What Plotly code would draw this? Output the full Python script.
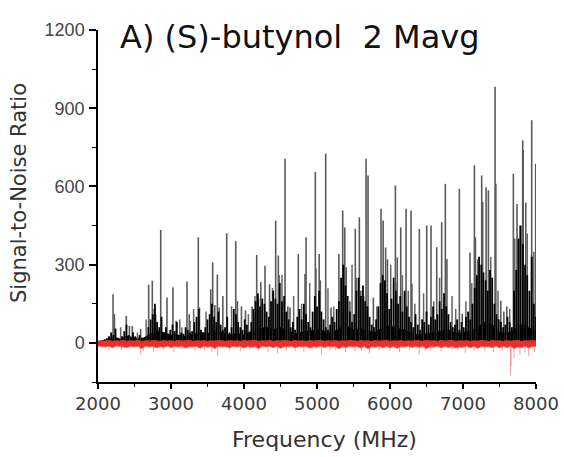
import plotly.graph_objects as go

# ---- data ----
peak_freq = [2206, 2225, 2388, 2430, 2470, 2584, 2694, 2744, 2770, 2790, 2859, 2945, 3027, 3070,
             3219, 3250, 3260, 3374, 3390, 3544, 3571, 3600, 3635, 3660, 3710, 3763, 3887, 3910,
             3965, 4020, 4110, 4174, 4230, 4288, 4350, 4434, 4470, 4480, 4562, 4600, 4630, 4744,
             4836, 4850, 4977, 4985, 5030, 5045, 5119, 5192, 5300, 5352, 5380, 5400, 5450, 5525,
             5580, 5600, 5672, 5699, 5772, 5877, 5906, 5940, 5965, 6074, 6080, 6100, 6147, 6220,
             6288, 6300, 6402, 6503, 6562, 6640, 6708, 6758, 6780, 6950, 6990, 7096, 7156, 7170,
             7256, 7270, 7316, 7348, 7439, 7450, 7517, 7560, 7600, 7690, 7740, 7818, 7825, 7860,
             7941, 7945, 7996]
peak_snr = [187, 110, 104, 65, 65, 54, 223, 238, 130, 110, 433, 174, 213, 85,
            235, 110, 85, 405, 136, 206, 309, 145, 262, 136, 180, 420, 390, 160,
            140, 125, 140, 337, 233, 296, 225, 469, 335, 260, 706, 140, 136, 341,
            264, 405, 655, 285, 341, 240, 726, 136, 341, 508, 443, 290, 160, 438,
            482, 200, 706, 642, 174, 514, 469, 366, 320, 604, 230, 328, 443, 514,
            508, 227, 437, 450, 450, 367, 463, 610, 322, 591, 112, 347, 681, 405,
            642, 540, 597, 585, 982, 610, 162, 120, 140, 649, 533, 777, 740, 538,
            854, 330, 687]

# further mid-height lines
mid_freq = [2310, 2540, 2660, 3120, 3150, 3310, 3480, 3830, 4060, 4150, 4200, 4390, 4520, 4680,
            4790, 4900, 5150, 5230, 5480, 5540, 5640, 5820, 6010, 6170, 6250, 6340, 6460, 6600,
            6680, 6850, 6900, 7040, 7120, 7200, 7380, 7480, 7640, 7710, 7780, 7880, 7970]
mid_snr = [60, 40, 90, 90, 60, 130, 120, 140, 110, 180, 170, 210, 260, 180,
           150, 230, 210, 140, 300, 250, 180, 140, 300, 260, 200, 150, 190, 160,
           250, 180, 130, 160, 230, 320, 330, 200, 130, 400, 450, 420, 350]

# dense forest of weaker lines, 30 MHz grid from 2000 to 8000
forest_start, forest_step = 2000, 30
forest_snr = [5, 8, 10, 14, 18, 25, 40, 30, 55, 20,
              15, 25, 45, 70, 30, 20, 40, 25, 15, 30,
              20, 15, 25, 60, 90, 110, 150, 80, 60, 100,
              40, 60, 35, 50, 70, 45, 80, 30, 40, 35,
              60, 50, 40, 45, 80, 100, 130, 50, 40, 60,
              90, 110, 150, 100, 80, 120, 70, 50, 60, 100,
              40, 60, 130, 110, 80, 60, 50, 90, 70, 40,
              80, 130, 160, 190, 140, 170, 150, 120, 100, 160,
              200, 170, 150, 230, 160, 180, 120, 90, 60, 80,
              50, 100, 130, 90, 150, 110, 80, 60, 120, 180,
              140, 200, 120, 90, 60, 50, 70, 100, 80, 130,
              160, 250, 300, 220, 180, 120, 80, 110, 200, 250,
              180, 220, 160, 140, 100, 70, 60, 90, 140, 230,
              260, 240, 190, 130, 170, 250, 200, 150, 180, 120,
              200, 140, 100, 80, 60, 110, 70, 50, 90, 80,
              120, 70, 100, 140, 90, 110, 160, 130, 190, 140,
              110, 80, 60, 70, 90, 50, 80, 60, 100, 120,
              90, 150, 210, 260, 330, 300, 270, 240, 200, 280,
              250, 150, 110, 90, 80, 60, 70, 100, 80, 60,
              200, 280, 400, 450, 380, 300, 260, 200, 330, 150,
              100]

# solid dark floor near the baseline, 100 MHz grid
floor_start, floor_step = 2000, 100
floor_snr = [5, 10, 20, 15, 25, 20,
             15, 30, 45, 40, 30,
             30, 25, 35, 40, 35,
             45, 40, 30, 35, 30,
             45, 55, 60, 50, 60,
             45, 35, 40, 45, 50,
             45, 35, 55, 65, 50,
             55, 45, 40, 60, 65,
             55, 50, 35, 30, 35,
             40, 45, 50, 35, 40,
             45, 60, 80, 70, 40,
             35, 50, 70, 60, 45]

# red noise band: upper and lower edge, 50 MHz grid
red_start, red_step = 2000, 50
red_top = [6, 8, 7, 9, 6, 8, 7, 10, 6, 8,
           7, 9, 6, 8, 7, 9, 8, 6, 9, 7,
           8, 6, 9, 7, 8, 10, 6, 8, 7, 9,
           6, 8, 7, 9, 8, 6, 9, 7, 8, 6,
           9, 7, 8, 10, 6, 8, 7, 9, 6, 8,
           7, 9, 8, 6, 9, 7, 8, 6, 9, 7,
           8, 10, 6, 8, 7, 9, 6, 8, 7, 9,
           8, 6, 9, 7, 8, 6, 9, 7, 8, 10,
           6, 8, 7, 9, 6, 8, 7, 9, 8, 6,
           9, 7, 8, 6, 9, 7, 8, 10, 6, 8,
           7, 9, 6, 8, 7, 9, 8, 6, 9, 7,
           8, 6, 9, 7, 8, 10, 6, 8, 7, 9,
           7]
red_low = [-12, -14, -16, -13, -19, -12, -14, -15, -18, -13,
           -16, -14, -22, -13, -16, -14, -19, -15, -17, -13,
           -18, -14, -16, -13, -20, -15, -16, -14, -21, -13,
           -17, -14, -22, -13, -16, -15, -19, -13, -16, -14,
           -20, -14, -17, -15, -22, -13, -16, -14, -18, -14,
           -21, -15, -16, -13, -19, -14, -16, -14, -20, -15,
           -17, -13, -18, -14, -16, -14, -22, -15, -18, -13,
           -16, -14, -20, -14, -23, -15, -17, -13, -19, -14,
           -18, -14, -21, -15, -16, -13, -18, -14, -17, -14,
           -22, -15, -16, -13, -19, -14, -18, -14, -20, -16,
           -17, -13, -19, -14, -21, -14, -16, -15, -18, -13,
           -19, -14, -18, -14, -22, -16, -19, -13, -20, -14,
           -14]
red_spike_freq = [2150, 2320, 2580, 2620, 2760, 2900, 3040, 3150, 3330, 3460, 3560, 3640, 3800,
                  3950, 4080, 4200, 4330, 4460, 4580, 4700, 4820, 4930, 5060, 5180, 5250, 5390,
                  5520, 5610, 5720, 5850, 6000, 6130, 6270, 6400, 6480, 6560, 6700, 6850, 6930,
                  7030, 7150, 7300, 7420, 7540, 7650, 7660, 7700, 7780, 7850, 7900, 7980]
red_spike_snr = [-30, -28, -45, -30, -32, -28, -35, -25, -30, -28, -35, -50, -28,
                 -32, -26, -30, -34, -40, -30, -30, -35, -28, -45, -30, -28, -34,
                 -32, -30, -40, -28, -30, -35, -28, -45, -30, -30, -33, -28, -30,
                 -40, -30, -32, -35, -30, -125, -90, -60, -45, -38, -50, -35]

x_ticks = [2000, 3000, 4000, 5000, 6000, 7000, 8000]
y_ticks = [0, 300, 600, 900, 1200]
title_text = "A) (S)-butynol  2 Mavg"


def sticks(freqs, vals):
    xs, ys = [], []
    for f, v in zip(freqs, vals):
        xs += [f, f, None]
        ys += [0, v, None]
    return xs, ys


forest_freq = [forest_start + i * forest_step for i in range(len(forest_snr))]
floor_freq = [floor_start + i * floor_step for i in range(len(floor_snr))]
red_freq = [red_start + i * red_step for i in range(len(red_low))]

fig = go.Figure()

fig.add_trace(go.Scatter(x=floor_freq, y=floor_snr, mode="lines", fill="tozeroy",
                         line=dict(color="black", width=1), fillcolor="black",
                         hoverinfo="skip"))
mx, my = sticks(mid_freq, mid_snr)
fig.add_trace(go.Scatter(x=mx, y=my, mode="lines", line=dict(color="#666666", width=1.5),
                         hoverinfo="skip"))
px, py = sticks(peak_freq, peak_snr)
fig.add_trace(go.Scatter(x=px, y=py, mode="lines", line=dict(color="#5a5a5a", width=1.6),
                         hoverinfo="skip"))
fx, fy = sticks(forest_freq, forest_snr)
fig.add_trace(go.Scatter(x=fx, y=fy, mode="lines", line=dict(color="black", width=1.8),
                         hoverinfo="skip"))
sx, sy = sticks(red_spike_freq, red_spike_snr)
fig.add_trace(go.Scatter(x=sx, y=sy, mode="lines", line=dict(color="#f2a0a0", width=1),
                         hoverinfo="skip"))
fig.add_trace(go.Scatter(x=red_freq, y=red_top, mode="lines",
                         line=dict(color="#e8302a", width=1), hoverinfo="skip"))
fig.add_trace(go.Scatter(x=red_freq, y=red_low, mode="lines", fill="tonexty",
                         fillcolor="#e8302a", line=dict(color="#f07060", width=1),
                         hoverinfo="skip"))

fig.update_layout(
    width=564, height=457,
    margin=dict(l=98, r=28, t=30, b=75, autoexpand=False),
    paper_bgcolor="white", plot_bgcolor="white",
    showlegend=False,
    font=dict(family="DejaVu Sans", color="#222"),
)

fig.update_xaxes(
    range=[2000, 8000], tickvals=x_ticks, ticktext=[str(v) for v in x_ticks],
    automargin=False,
    showline=True, linecolor="black", linewidth=1.5, showgrid=False, zeroline=False,
    ticks="outside", ticklen=5, tickwidth=1.5, tickcolor="black",
    tickfont=dict(family="DejaVu Sans", size=18, color="#3a3a3a"),
    minor=dict(ticks="outside", ticklen=3, tickwidth=1.2, tickcolor="black", dtick=500, tick0=2000),
)
fig.update_yaxes(
    range=[-150, 1200], tickvals=y_ticks, ticktext=[str(v) for v in y_ticks],
    automargin=False,
    showline=True, linecolor="black", linewidth=1.5, showgrid=False, zeroline=False,
    ticks="outside", ticklen=7, tickwidth=1.5, tickcolor="black", ticklabelstandoff=1,
    tickfont=dict(family="Liberation Sans Narrow, Liberation Sans", size=18, color="#444"),
    minor=dict(ticks="outside", ticklen=4, tickwidth=1.2, tickcolor="black", dtick=150, tick0=0),
)

fig.add_annotation(text=title_text, xref="paper", yref="paper",
                   x=(118 - 98) / 438, y=1 - (37 - 30) / 352, xanchor="left", yanchor="middle",
                   showarrow=False, font=dict(family="DejaVu Sans", size=32, color="#111"))
fig.add_annotation(text="Signal-to-Noise Ratio", xref="paper", yref="paper",
                   x=-(98 - 19) / 438, y=1 - (193 - 30) / 352, xanchor="center", yanchor="middle",
                   textangle=-90, showarrow=False,
                   font=dict(family="DejaVu Sans", size=21, color="#333"))
fig.add_annotation(text="Frequency (MHz)", xref="paper", yref="paper",
                   x=(324 - 98) / 438, y=-(439 - 382) / 352, xanchor="center", yanchor="middle",
                   showarrow=False, font=dict(family="DejaVu Sans", size=22, color="#333"))

fig.write_html("out.html", config={"displayModeBar": False},
               post_script="document.body.style.margin='0';")
